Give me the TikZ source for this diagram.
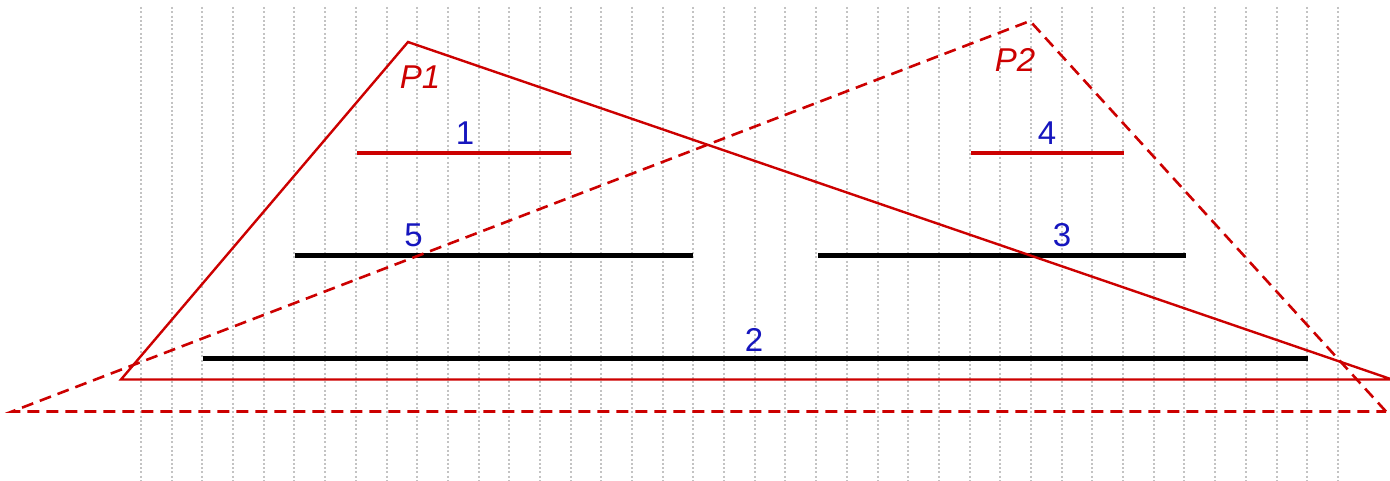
\documentclass[tikz,border=0pt]{standalone}
\usepackage{fontspec}
\setmainfont{Liberation Sans}
\definecolor{pred}{RGB}{204,0,0}
\definecolor{lblue}{RGB}{22,22,190}
\definecolor{gridgray}{RGB}{195,195,195}
\tikzset{
  gridline/.style={draw=gridgray, line width=2pt, dash pattern=on 2pt off 2.3pt},
  polysolid/.style={draw=pred, line width=2.4pt, line join=miter},
  polydashed/.style={draw=pred, line width=2.6pt, dash pattern=on 12pt off 7pt},
  redseg/.style={draw=pred, line width=4pt},
  blackseg/.style={draw=black, line width=4.6pt},
  seglabel/.style={text=lblue, font=\fontsize{33}{33}\selectfont, anchor=base, inner sep=0pt},
  polylabel/.style={text=pred, font=\fontsize{33}{33}\selectfont\itshape, anchor=base, inner sep=0pt}
}
\begin{document}
\begin{tikzpicture}[x=1pt,y=-1pt]
\useasboundingbox (0,0) rectangle (1390,481);
% background grid
\foreach \i in {0,...,39} {
  \draw[gridline] ({141+\i*30.69},7) -- ({141+\i*30.69},481);
}
% segment endpoints
\coordinate (s1a) at (357,153); \coordinate (s1b) at (571,153);
\coordinate (s4a) at (971,153); \coordinate (s4b) at (1124,153);
\coordinate (s5a) at (295,255.5); \coordinate (s5b) at (693,255.5);
\coordinate (s3a) at (818,255.5); \coordinate (s3b) at (1186,255.5);
\coordinate (s2a) at (203,358.5); \coordinate (s2b) at (1308,358.5);
% segments
\draw[redseg] (s1a) -- (s1b);
\draw[redseg] (s4a) -- (s4b);
\draw[blackseg] (s5a) -- (s5b);
\draw[blackseg] (s3a) -- (s3b);
\draw[blackseg] (s2a) -- (s2b);
% polygon vertices
\coordinate (p1top) at (408,42);
\coordinate (p1left) at (121,379.5);
\coordinate (p1right) at (1392,379.5);
\coordinate (p2top) at (1030,21);
\coordinate (p2left) at (12,411.5);
\coordinate (p2right) at (1386,411.5);
% polygons
\draw[polysolid] (p1right) -- (p1top) -- (p1left) -- cycle;
\draw[polydashed] (p2right) -- (p2top) -- (p2left) -- cycle;
% labels
\node[polylabel] (lP1) at (420,88.5) {P1};
\node[polylabel] (lP2) at (1015,71.5) {P2};
\node[seglabel] (l1) at (465,145) {1};
\node[seglabel] (l4) at (1047,145) {4};
\node[seglabel] (l5) at (413.5,246.7) {5};
\node[seglabel] (l3) at (1062,246.7) {3};
\node[seglabel] (l2) at (754,351.5) {2};
\end{tikzpicture}
\end{document}
